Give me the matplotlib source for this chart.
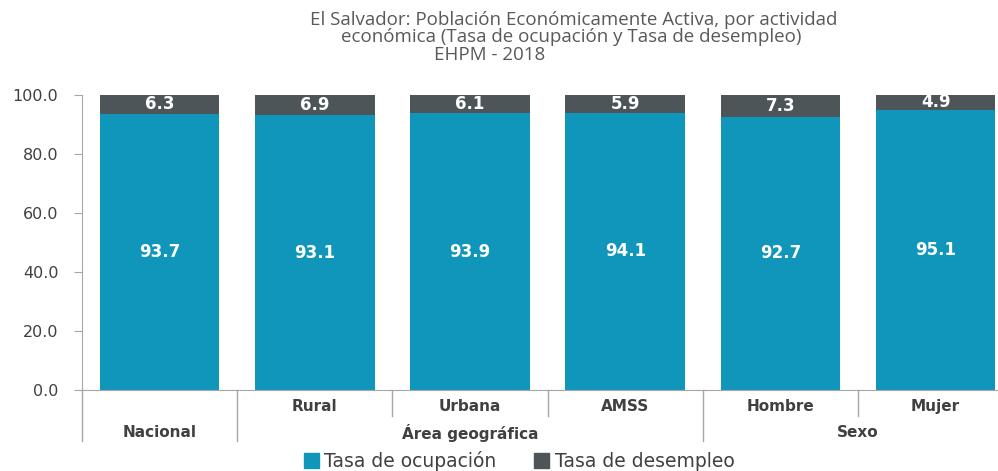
import matplotlib
matplotlib.use("Agg")
import matplotlib.pyplot as plt
from matplotlib.patches import Patch
from matplotlib.transforms import blended_transform_factory
import numpy as np

categories = ["Nacional", "Rural", "Urbana", "AMSS", "Hombre", "Mujer"]
ocupacion = [93.7, 93.1, 93.9, 94.1, 92.7, 95.1]
desempleo = [6.3, 6.9, 6.1, 5.9, 7.3, 4.9]
sub_labels = ["", "Rural", "Urbana", "AMSS", "Hombre", "Mujer"]
groups = [("Nacional", 0, 0), ("Área geográfica", 1, 3), ("Sexo", 4, 5)]
yticks = [0, 20, 40, 60, 80, 100]

c_ocup = "#1096BA"
c_desem = "#4E5558"
c_axis = "#A6A6A6"
c_text = "#404040"
sans = "DejaVu Sans"

fig = plt.figure(figsize=(9.98, 4.71), dpi=100)
ax = fig.add_axes([0.0822, 0.172, 0.933, 0.626])

x = np.arange(len(categories))
w = 0.77
ax.bar(x, ocupacion, w, color=c_ocup, label="Tasa de ocupación")
ax.bar(x, desempleo, w, bottom=ocupacion, color=c_desem, label="Tasa de desempleo")

for i in range(len(x)):
    ax.text(x[i], ocupacion[i] / 2, f"{ocupacion[i]:.1f}", ha="center", va="center",
            color="white", fontsize=12, fontweight="bold", family=sans)
    ax.text(x[i], ocupacion[i] + desempleo[i] / 2, f"{desempleo[i]:.1f}", ha="center",
            va="center", color="white", fontsize=12, fontweight="bold", family=sans)

ax.set_xlim(-0.5, len(x) - 0.5)
ax.set_ylim(0, 100)
ax.set_yticks(yticks)
ax.set_yticklabels([f"{v:.1f}" for v in yticks], fontsize=11.5, color=c_text, family=sans)
ax.tick_params(axis="y", length=6, color=c_axis, pad=11)
ax.set_xticks([])
for s in ["top", "right"]:
    ax.spines[s].set_visible(False)
ax.spines["left"].set_color(c_axis)
ax.spines["bottom"].set_color(c_axis)

# two-level category axis
tr = blended_transform_factory(ax.transData, fig.transFigure)
y_sub, y_grp = 0.136, 0.081
y_top, y_mid, y_bot = 0.172, 0.117, 0.063
for i, lab in enumerate(sub_labels):
    if lab:
        ax.text(x[i], y_sub, lab, transform=tr, ha="center", va="center",
                fontsize=11, fontweight="bold", color=c_text, family=sans)
for name, a, b in groups:
    ax.text((a + b) / 2, y_grp, name, transform=tr, ha="center", va="center",
            fontsize=11, fontweight="bold", color=c_text, family=sans)
full_div = [-0.5, 0.5, 3.5]
short_div = [1.5, 2.5, 4.5]
for d in full_div:
    ax.plot([d, d], [y_top, y_bot], transform=tr, color=c_axis, lw=1, clip_on=False)
for d in short_div:
    ax.plot([d, d], [y_top, y_mid], transform=tr, color=c_axis, lw=1, clip_on=False)

# title
title_lines = ["El Salvador: Población Económicamente Activa, por actividad",
               "económica (Tasa de ocupación y Tasa de desempleo)",
               "EHPM - 2018"]
title_x = [0.575, 0.572, 0.491]
title_y = [0.958, 0.921, 0.884]
for t, tx, ty in zip(title_lines, title_x, title_y):
    fig.text(tx, ty, t, ha="center", va="center", fontsize=13.5, color="#595959",
             family="Open Sans")

handles = [Patch(color=c_ocup), Patch(color=c_desem)]
fig.legend(handles, ["Tasa de ocupación", "Tasa de desempleo"], loc="center",
           bbox_to_anchor=(0.52, 0.021), ncol=2, frameon=False,
           prop={"family": sans, "size": 13.5},
           handlelength=0.8, handleheight=0.8, handletextpad=0.3, columnspacing=2.0,
           labelcolor=c_text)

fig.savefig("out.png", dpi=100)
